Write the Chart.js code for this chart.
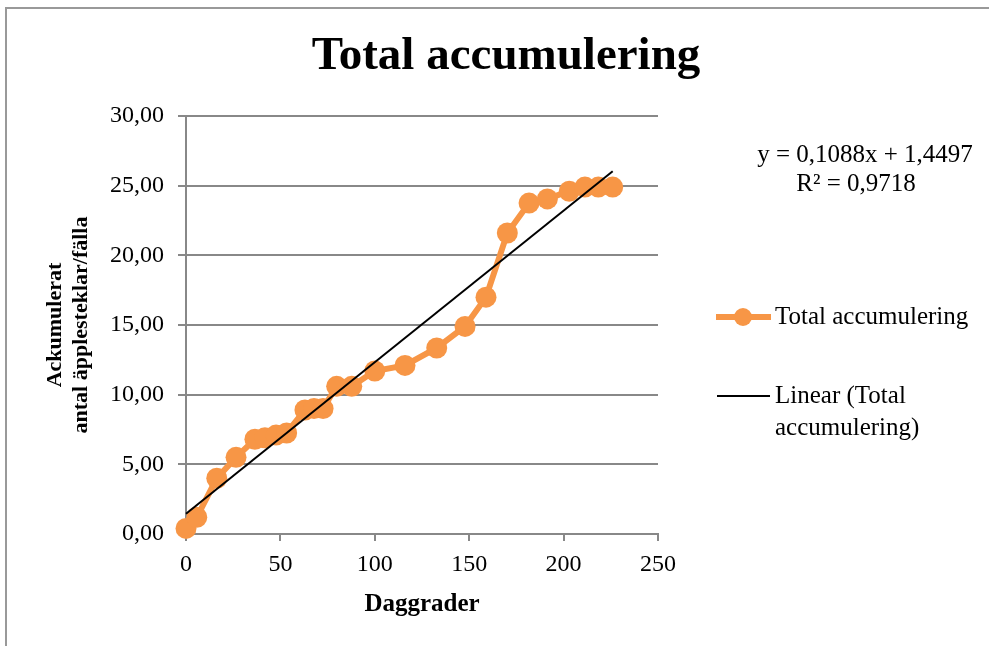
<!DOCTYPE html>
<html>
<head>
<meta charset="utf-8">
<script src="https://cdn.jsdelivr.net/npm/chart.js@4"></script>
<style>
  body { margin: 0; background: #fff; }
  canvas { display: block; }
</style>
</head>
<body>
<canvas id="myChart" width="989" height="646"></canvas>
<script>
// data
var dagGrader = [0, 5.7, 16.3, 26.5, 36.5, 41.8, 47.7, 53.3, 63, 67.8, 72.6, 79.8, 87.8, 100, 116, 132.8, 147.8, 158.9, 170.2, 181.7, 191.4, 203, 211.3, 218.4, 226];
var ackumulerat = [0.4, 1.2, 4.0, 5.5, 6.8, 6.9, 7.1, 7.25, 8.9, 9.0, 9.0, 10.6, 10.6, 11.7, 12.1, 13.35, 14.9, 17.0, 21.6, 23.75, 24.05, 24.6, 24.9, 24.9, 24.9];
var trendX = [0, 226];
var trendY = [1.45, 26.04];
var xTicks = [0, 50, 100, 150, 200, 250];
var yTicks = [0, 5, 10, 15, 20, 25, 30];

var orange = "#F79646";
var serif = "'Liberation Serif', 'DejaVu Serif', serif";

var seriesPoints = dagGrader.map(function (x, i) { return { x: x, y: ackumulerat[i] }; });
var trendPoints = trendX.map(function (x, i) { return { x: x, y: trendY[i] }; });

// title, trendline label, legend and frame
var extras = {
  id: "extras",
  afterDraw: function (chart) {
    var ctx = chart.ctx;
    ctx.save();
    ctx.strokeStyle = "#999";
    ctx.lineWidth = 2;
    ctx.strokeRect(6, 8, 1100, 1100);

    ctx.fillStyle = "#000";
    ctx.textAlign = "center";
    ctx.textBaseline = "middle";
    ctx.font = "bold 47px " + serif;
    ctx.fillText("Total accumulering", 506, 57);

    ctx.font = "25px " + serif;
    ctx.fillText("y = 0,1088x + 1,4497", 865, 155);
    ctx.fillText("R\u00B2 = 0,9718", 856, 184);

    // legend
    ctx.strokeStyle = orange;
    ctx.lineWidth = 6;
    ctx.beginPath();
    ctx.moveTo(716, 317);
    ctx.lineTo(771, 317);
    ctx.stroke();
    ctx.fillStyle = orange;
    ctx.beginPath();
    ctx.arc(743, 317, 9, 0, Math.PI * 2);
    ctx.fill();

    ctx.strokeStyle = "#000";
    ctx.lineWidth = 2;
    ctx.beginPath();
    ctx.moveTo(717, 396);
    ctx.lineTo(770, 396);
    ctx.stroke();

    ctx.fillStyle = "#000";
    ctx.textAlign = "left";
    ctx.fillText("Total accumulering", 775, 317);
    ctx.fillText("Linear (Total", 775, 396);
    ctx.fillText("accumulering)", 775, 428);
    ctx.restore();
  }
};

new Chart("myChart", {
  type: "scatter",
  data: {
    datasets: [
      {
        label: "Total accumulering",
        data: seriesPoints,
        showLine: true,
        clip: false,
        borderColor: orange,
        backgroundColor: orange,
        borderWidth: 6,
        pointRadius: 10.5,
        pointHoverRadius: 10.5,
        pointBorderWidth: 0,
        order: 2
      },
      {
        label: "Linear (Total accumulering)",
        data: trendPoints,
        showLine: true,
        clip: false,
        borderColor: "#000",
        borderWidth: 2,
        pointRadius: 0,
        order: 1
      }
    ]
  },
  options: {
    responsive: false,
    animation: false,
    layout: { padding: { left: 0, right: 331, top: 116, bottom: 0 } },
    plugins: {
      legend: { display: false },
      title: { display: false },
      tooltip: { enabled: false }
    },
    scales: {
      x: {
        type: "linear",
        min: 0,
        max: 250,
        afterBuildTicks: function (scale) {
          scale.ticks = xTicks.map(function (v) { return { value: v }; });
        },
        afterFit: function (scale) { scale.height = 112; },
        grid: { drawOnChartArea: false, color: "#888", lineWidth: 2, tickLength: 7 },
        border: { color: "#888", width: 2 },
        ticks: { color: "#000", font: { family: serif, size: 24 }, padding: 9 },
        title: {
          display: true,
          text: "Daggrader",
          color: "#000",
          font: { family: serif, size: 25, weight: "bold" },
          padding: { top: 0, bottom: 26 }
        }
      },
      y: {
        min: 0,
        max: 30,
        afterBuildTicks: function (scale) {
          scale.ticks = yTicks.map(function (v) { return { value: v }; });
        },
        afterFit: function (scale) { scale.width = 186; },
        grid: { color: "#888", lineWidth: 2, tickLength: 8 },
        border: { color: "#888", width: 2 },
        ticks: {
          color: "#000",
          font: { family: serif, size: 24 },
          padding: 14,
          callback: function (v) { return v.toFixed(2).replace(".", ","); }
        },
        title: {
          display: true,
          text: ["Ackumulerat", "antal \u00E4pplesteklar/f\u00E4lla"],
          color: "#000",
          font: { family: serif, size: 22, weight: "bold", lineHeight: 1.2 },
          padding: { top: 42, bottom: 0 }
        }
      }
    }
  },
  plugins: [extras]
});
</script>
</body>
</html>
